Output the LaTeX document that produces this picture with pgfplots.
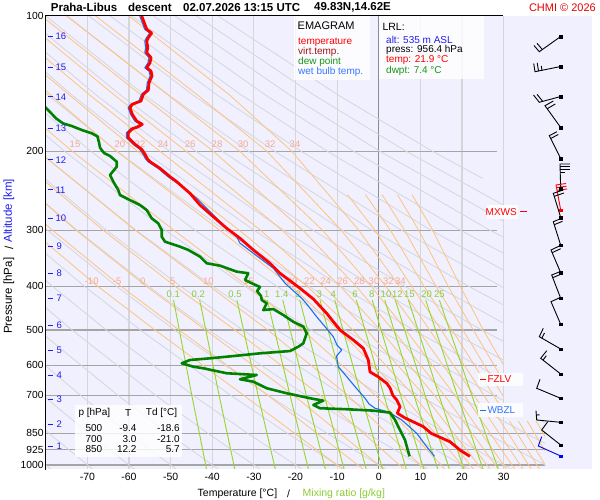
\documentclass[border=0pt]{standalone}
\usepackage{fontspec}
\setmainfont{Liberation Sans}
\usepackage{pgfplots}
\pgfplotsset{compat=1.18}
\newcommand{\fs}[1]{\fontsize{#1}{#1}\selectfont}
\definecolor{lav}{RGB}{240,240,255}
\definecolor{isoth}{RGB}{214,214,218}
\definecolor{isobarc}{RGB}{165,165,165}
\definecolor{dryc}{RGB}{214,214,220}
\definecolor{moistc}{RGB}{255,195,125}
\definecolor{mixc}{RGB}{150,215,40}
\definecolor{mixlab}{RGB}{140,205,50}
\definecolor{moistlab}{RGB}{250,168,140}
\definecolor{tred}{RGB}{255,0,0}
\definecolor{dgreen}{RGB}{0,130,0}
\definecolor{wblue}{RGB}{30,110,235}
\definecolor{altblue}{RGB}{30,30,240}
\definecolor{vred}{RGB}{160,20,20}
\definecolor{lgreen}{RGB}{20,150,20}
\definecolor{lblue}{RGB}{50,120,255}
\pgfplotsset{
 dry/.style={draw=dryc, line width=0.8pt, mark=none},
 moist/.style={draw=moistc, line width=0.8pt, mark=none},
 mix/.style={draw=mixc, line width=0.9pt, mark=none},
 barb/.style={draw=black, line width=0.9pt, mark=none},
}
\tikzset{txt/.style={inner sep=0pt, font=\fs{10}}}
\begin{document}
\begin{tikzpicture}
\useasboundingbox (0pt,0pt) rectangle (600pt,500pt);
\fill[white] (0pt,0pt) rectangle (600pt,500pt);

% ---------- frame, grid, ticks
\begin{axis}[at={(45.74pt,31pt)}, anchor=south west, scale only axis, width=546.3pt, height=453pt,
  xmin=-80, xmax=51.25, ymode=log, ymin=100, ymax=1020.7, y dir=reverse,
  axis background/.style={fill=lav},
  axis line style={draw=none}, major tick length=0pt, minor tick length=0pt,
  xtick={-70,-60,-50,-40,-30,-20,-10,0,10,20,30},
  xticklabels={-70,-60,-50,-40,-30,-20,-10,0,10,20,30},
  ytick={100,200,300,400,500,600,700,850,925,1000},
  yticklabels={100,200,300,400,500,600,700,850,925,1000},
  xticklabel style={font=\fs{10.5}, inner sep=1pt, yshift=-2.5pt},
  yticklabel style={font=\fs{10.3}, inner sep=2pt}]
\addplot[isoth, line width=1.2pt, mark=none] coordinates {(-70,100) (-70,1020.7)};
\addplot[isoth, line width=1.2pt, mark=none] coordinates {(-60,100) (-60,1020.7)};
\addplot[isoth, line width=1.2pt, mark=none] coordinates {(-50,100) (-50,1020.7)};
\addplot[isoth, line width=1.2pt, mark=none] coordinates {(-40,100) (-40,1020.7)};
\addplot[isoth, line width=1.2pt, mark=none] coordinates {(-30,100) (-30,1020.7)};
\addplot[isoth, line width=1.2pt, mark=none] coordinates {(-20,100) (-20,1020.7)};
\addplot[isoth, line width=1.2pt, mark=none] coordinates {(-10,100) (-10,1020.7)};
\addplot[isoth, line width=1.2pt, mark=none] coordinates {(10,100) (10,1020.7)};
\addplot[isoth, line width=1.2pt, mark=none] coordinates {(20,100) (20,1020.7)};
\addplot[isoth, line width=1.2pt, mark=none] coordinates {(30,100) (30,1020.7)};
\addplot[black!45, line width=1pt, mark=none] coordinates {(0,100) (0,1020.7)};
\addplot[isobarc, line width=1.3pt, mark=none] coordinates {(-80,200) (28.4,200)};
\addplot[isobarc, line width=1.3pt, mark=none] coordinates {(-80,300) (28.4,300)};
\addplot[isobarc, line width=1.3pt, mark=none] coordinates {(-80,400) (28.4,400)};
\addplot[isobarc, line width=1.3pt, mark=none] coordinates {(-80,500) (28.4,500)};
\addplot[isobarc, line width=1.3pt, mark=none] coordinates {(-80,600) (28.4,600)};
\addplot[isobarc, line width=1.3pt, mark=none] coordinates {(-80,700) (28.4,700)};
\addplot[isobarc, line width=1.3pt, mark=none] coordinates {(-80,850) (40,850)};
\addplot[isobarc, line width=1.3pt, mark=none] coordinates {(-80,925) (40,925)};
\addplot[isobarc, line width=1.3pt, mark=none] coordinates {(-80,1000) (40,1000)};
\end{axis}

% ---------- adiabats and mixing ratio lines (clipped to the diagram area)
\begin{scope}
\clip (45.74pt,31pt) -- (45.74pt,484pt) -- (503pt,484pt) -- (503pt,79pt) -- (545pt,79pt) -- (545pt,31pt) -- cycle;
\begin{axis}[at={(45.74pt,31pt)}, anchor=south west, scale only axis, width=546.3pt, height=453pt,
  xmin=-80, xmax=51.25, ymode=log, ymin=100, ymax=1020.7, y dir=reverse, hide axis]
% dry adiabats, theta = -80 ... 180 C
\addplot[dry] coordinates {(-78.74,1023) (-88.77,850)};
\addplot[dry] coordinates {(-68.67,1023) (-79.23,850) (-89.70,700)};
\addplot[dry] coordinates {(-58.61,1023) (-69.68,850) (-80.67,700) (-98.33,500)};
\addplot[dry] coordinates {(-48.54,1023) (-60.13,850) (-71.64,700) (-90.13,500)};
\addplot[dry] coordinates {(-38.48,1023) (-50.59,850) (-62.61,700) (-81.93,500)};
\addplot[dry] coordinates {(-28.41,1023) (-41.04,850) (-53.58,700) (-73.73,500) (-86.05,400)};
\addplot[dry] coordinates {(-18.35,1023) (-31.50,850) (-44.55,700) (-65.52,500) (-78.36,400) (-93.74,300)};
\addplot[dry] coordinates {(-8.28,1023) (-21.95,850) (-35.52,700) (-57.32,500) (-70.67,400) (-86.66,300)};
\addplot[dry] coordinates {(1.78,1023) (-12.41,850) (-26.49,700) (-49.12,500) (-62.97,400) (-79.57,300) (-100.75,200)};
\addplot[dry] coordinates {(11.85,1023) (-2.86,850) (-17.46,700) (-40.92,500) (-55.28,400) (-72.48,300) (-94.44,200)};
\addplot[dry] coordinates {(21.91,1023) (6.69,850) (-8.43,700) (-32.72,500) (-47.58,400) (-65.40,300) (-88.13,200)};
\addplot[dry] coordinates {(31.98,1023) (16.23,850) (0.60,700) (-24.52,500) (-39.89,400) (-58.31,300) (-81.81,200)};
\addplot[dry] coordinates {(42.04,1023) (25.78,850) (9.63,700) (-16.31,500) (-32.19,400) (-51.22,300) (-75.50,200) (-91.12,150)};
\addplot[dry] coordinates {(52.11,1023) (35.32,850) (18.66,700) (-8.11,500) (-24.50,400) (-44.14,300) (-69.19,200) (-85.31,150)};
\addplot[dry] coordinates {(62.17,1023) (44.87,850) (27.69,700) (0.09,500) (-16.80,400) (-37.05,300) (-62.88,200) (-79.49,150) (-100.70,100)};
\addplot[dry] coordinates {(72.24,1023) (54.42,850) (36.72,700) (8.29,500) (-9.11,400) (-29.96,300) (-56.57,200) (-73.68,150) (-95.52,100)};
\addplot[dry] coordinates {(82.30,1023) (63.96,850) (45.75,700) (16.49,500) (-1.41,400) (-22.87,300) (-50.26,200) (-67.87,150) (-90.35,100)};
\addplot[dry] coordinates {(92.37,1023) (73.51,850) (54.78,700) (24.69,500) (6.28,400) (-15.79,300) (-43.95,200) (-62.05,150) (-85.17,100)};
\addplot[dry] coordinates {(102.43,1023) (83.05,850) (63.81,700) (32.90,500) (13.98,400) (-8.70,300) (-37.64,200) (-56.24,150) (-79.99,100)};
\addplot[dry] coordinates {(112.50,1023) (92.60,850) (72.84,700) (41.10,500) (21.67,400) (-1.61,300) (-31.33,200) (-50.43,150) (-74.82,100)};
\addplot[dry] coordinates {(122.56,1023) (102.15,850) (81.87,700) (49.30,500) (29.36,400) (5.47,300) (-25.01,200) (-44.62,150) (-69.64,100)};
\addplot[dry] coordinates {(132.63,1023) (111.69,850) (90.90,700) (57.50,500) (37.06,400) (12.56,300) (-18.70,200) (-38.80,150) (-64.46,100)};
\addplot[dry] coordinates {(142.69,1023) (121.24,850) (99.93,700) (65.70,500) (44.75,400) (19.65,300) (-12.39,200) (-32.99,150) (-59.29,100)};
\addplot[dry] coordinates {(152.76,1023) (130.78,850) (108.96,700) (73.90,500) (52.45,400) (26.73,300) (-6.08,200) (-27.18,150) (-54.11,100)};
\addplot[dry] coordinates {(162.82,1023) (140.33,850) (117.99,700) (82.11,500) (60.14,400) (33.82,300) (0.23,200) (-21.36,150) (-48.94,100)};
\addplot[dry] coordinates {(172.89,1023) (149.87,850) (127.02,700) (90.31,500) (67.84,400) (40.91,300) (6.54,200) (-15.55,150) (-43.76,100)};
\addplot[dry] coordinates {(25.0,230) (12.85,200) (-9.74,150) (-38.59,100)};
% moist (pseudo) adiabats, theta_w = -10 ... 44 C
\addplot[moist] coordinates {(-8.6,1023) (-10,1000) (-32.4,700) (-53.8,500) (-67.5,400) (-83.5,300)};
\addplot[moist] coordinates {(-3.6,1023) (-5,1000) (-26.6,700) (-48.0,500) (-61.9,400) (-78.4,300) (-99.7,200)};
\addplot[moist] coordinates {(1.3,1023) (0,1000) (-20.4,700) (-41.7,500) (-55.8,400) (-72.7,300) (-94.6,200)};
\addplot[moist] coordinates {(6.2,1023) (5,1000) (-14.0,700) (-34.6,500) (-48.9,400) (-66.2,300) (-88.8,200)};
\addplot[moist] coordinates {(11.1,1023) (10,1000) (-7.4,700) (-26.7,500) (-40.6,400) (-58.5,300) (-81.9,200)};
\addplot[moist] coordinates {(15.9,1023) (15,1000) (-0.75,700) (-18.3,500) (-31.4,400) (-49.2,300) (-73.7,200) (-89.3,150)};
\addplot[moist] coordinates {(20.9,1023) (20,1000) (5.8,700) (-9.65,500) (-21.0,400) (-38.2,300) (-63.0,200) (-78.8,150) (-101,100)};
\addplot[moist] coordinates {(22.8,1023) (22,1000) (8.4,700) (-6.25,500) (-17.2,400) (-33.5,300) (-58.0,200) (-74.3,150) (-97,100)};
\addplot[moist] coordinates {(24.8,1023) (24,1000) (10.9,700) (-2.9,500) (-13.2,400) (-28.4,300) (-52.6,200) (-69.4,150) (-92,100)};
\addplot[moist] coordinates {(26.8,1023) (26,1000) (13.4,700) (0.3,500) (-9.2,400) (-23.2,300) (-46.3,200) (-63.5,150) (-86.5,100)};
\addplot[moist] coordinates {(28.8,1023) (28,1000) (15.8,700) (3.4,500) (-5.4,400) (-18.2,300) (-39.8,200) (-57.1,150) (-81,100)};
\addplot[moist] coordinates {(30.7,1023) (30,1000) (18.3,700) (6.5,500) (-1.8,400) (-13.5,300) (-33.4,200) (-50.6,150) (-75,100)};
\addplot[moist] coordinates {(32.7,1023) (32,1000) (20.6,700) (9.4,500) (1.7,400) (-9.0,300) (-26.9,200) (-43.5,150) (-68,100)};
\addplot[moist] coordinates {(34.7,1023) (34,1000) (22.9,700) (12.2,500) (5.0,400) (-4.8,300) (-20.9,200) (-35.8,150) (-60,100)};
\addplot[moist] coordinates {(36.7,1023) (36,1000) (25.3,700) (15.0,500) (7.9,400) (-0.9,300) (-7.5,250)};
\addplot[moist] coordinates {(38.7,1023) (38,1000) (27.6,700) (17.6,500) (10.9,400) (2.8,300) (-3.2,250)};
\addplot[moist] coordinates {(40.7,1023) (40,1000) (29.8,700) (20.2,500) (13.75,400) (6.2,300) (0.8,250)};
\addplot[moist] coordinates {(42.7,1023) (42,1000) (32.0,700) (22.7,500) (16.7,400) (9.6,300) (4.5,250)};
\addplot[moist] coordinates {(44.7,1023) (44,1000) (34.2,700) (25.1,500) (19.6,400) (13.0,300) (8.0,250)};
% saturation mixing ratio lines (g/kg)
\addplot[mix] coordinates {(-41.36,1023) (-44.90,700) (-49.29,429)};
\addplot[mix] coordinates {(-34.56,1023) (-38.34,700) (-43.02,429)};
\addplot[mix] coordinates {(-24.83,1023) (-28.97,700) (-34.08,429)};
\addplot[mix] coordinates {(-16.86,1023) (-21.30,700) (-26.78,429)};
\addplot[mix] coordinates {(-12.78,1023) (-17.38,700) (-23.05,429)};
\addplot[mix] coordinates {(-8.29,1023) (-13.07,700) (-18.96,429)};
\addplot[mix] coordinates {(-2.98,1023) (-7.97,700) (-14.12,429)};
\addplot[mix] coordinates {(0.93,1023) (-4.23,700) (-10.57,429)};
\addplot[mix] coordinates {(6.65,1023) (1.25,700) (-5.38,429)};
\addplot[mix] coordinates {(10.85,1023) (5.27,700) (-1.58,429)};
\addplot[mix] coordinates {(14.20,1023) (8.48,700) (1.45,429)};
\addplot[mix] coordinates {(17.00,1023) (11.15,700) (3.98,429)};
\addplot[mix] coordinates {(20.49,1023) (14.48,700) (7.13,429)};
\addplot[mix] coordinates {(25.10,1023) (18.89,700) (11.28,429)};
\addplot[mix] coordinates {(28.76,1023) (22.38,700) (14.57,429)};
\end{axis}
\end{scope}

% ---------- labels of the reference lines and the sounding
\begin{axis}[at={(45.74pt,31pt)}, anchor=south west, scale only axis, width=546.3pt, height=453pt,
  xmin=-80, xmax=51.25, ymode=log, ymin=100, ymax=1020.7, y dir=reverse, hide axis, clip mode=individual]
\begin{scope}[every node/.style={inner sep=0pt, font=\fs{9.5}, text=moistlab}]
\node at (axis cs:-72.97,193.1) {15};
\node at (axis cs:-62.16,193.1) {20};
\node at (axis cs:-57.35,193.1) {22};
\node at (axis cs:-51.82,193.1) {24};
\node at (axis cs:-45.33,193.1) {26};
\node at (axis cs:-38.85,193.1) {28};
\node at (axis cs:-32.60,193.1) {30};
\node at (axis cs:-26.11,193.1) {32};
\node at (axis cs:-20.11,193.1) {34};
\node at (axis cs:-68.96,389.4) {-10};
\node at (axis cs:-62.81,389.4) {-5};
\node at (axis cs:-56.70,389.4) {0};
\node at (axis cs:-49.49,389.4) {5};
\node at (axis cs:-40.93,389.4) {10};
\node at (axis cs:-31.33,389.4) {15};
\node at (axis cs:-20.83,389.4) {20};
\node at (axis cs:-16.67,389.4) {22};
\node at (axis cs:-12.73,389.4) {24};
\node at (axis cs:-8.65,389.4) {26};
\node at (axis cs:-4.66,389.4) {28};
\node at (axis cs:-1.13,389.4) {30};
\node at (axis cs:2.31,389.4) {32};
\node at (axis cs:5.20,389.4) {34};
\end{scope}
\begin{scope}[every node/.style={inner sep=0pt, font=\fs{9.5}, text=mixlab}]
\node at (axis cs:-49.35,416) {0.1};
\node at (axis cs:-43.34,416) {0.2};
\node at (axis cs:-34.53,416) {0.5};
\node at (axis cs:-26.91,416) {1};
\node at (axis cs:-23.31,416) {1.4};
\node at (axis cs:-19.32,416) {2};
\node at (axis cs:-14.27,416) {3};
\node at (axis cs:-10.91,416) {4};
\node at (axis cs:-5.69,416) {6};
\node at (axis cs:-1.68,416) {8};
\node at (axis cs:1.75,416) {10};
\node at (axis cs:4.47,416) {12};
\node at (axis cs:7.35,416) {15};
\node at (axis cs:11.53,416) {20};
\node at (axis cs:14.56,416) {25};
\end{scope}
% wet bulb temperature
\addplot[wblue, line width=1.1pt, mark=none, line join=round] coordinates {
(-57.4,100) (-56.2,107.1) (-55.0,109.1) (-55.8,111.8) (-56.2,113.7) (-56.0,117.7) (-56.2,120.7)
(-55.2,123.8) (-55.4,127.1) (-56.2,130.4) (-55.2,132.6) (-54.9,136.0) (-55.6,140.8) (-55.8,146.2)
(-57.0,149.4) (-57.6,154.6) (-59.6,157.3) (-60.2,160.1) (-59.6,165.6) (-58.6,171.4) (-57.3,174.3)
(-58.4,176.7) (-59.6,178.3) (-60.6,182.0) (-60.6,186.7) (-59.0,193.1) (-57.4,198.1) (-56.6,203.3)
(-56.0,208.2) (-55.4,211.1) (-53.0,218.4) (-50.6,228.0) (-47.74,237.9) (-43.73,254.8) (-40.53,272.8)
(-37.34,292.1) (-34.12,310.1) (-33.33,320.7) (-30.13,337.6) (-25.32,364.6) (-22.5,393.8) (-18.50,425.3)
(-17.30,437.9) (-14.90,467.6) (-12.90,492.0) (-10.91,517.9) (-10.02,540.5) (-8.89,554.5) (-10.14,571.9)
(-9.71,604.0) (-7.69,635.7) (-5.29,676.0) (-3.29,710.1) (-2.33,731.2) (-0.89,747.5) (2.23,761.8)
(5.53,793.7) (9.13,850.1) (11.53,910.5) (13.4,956.4)};
% dew point
\addplot[dgreen, line width=2.6pt, mark=none, line join=round] coordinates {
(-80.66,157.9) (-78.98,163.6) (-77.54,169.0) (-75.86,173.4) (-73.76,175.8) (-71.36,179.4) (-68.96,182.5)
(-67.56,185.5) (-67.20,191.5) (-66.96,196.5) (-66.00,201.9) (-64.56,205.0) (-62.95,211.1) (-62.95,216.6)
(-64.56,226.0) (-63.77,233.9) (-62.57,244.2) (-62.16,250.5) (-59.76,257.0) (-57.35,263.7) (-55.74,270.5)
(-54.54,282.2) (-52.96,289.6) (-52.14,299.7) (-52.14,310.1) (-51.35,318.1) (-47.74,326.4) (-45.75,331.9)
(-42.94,343.5) (-41.33,355.4) (-38.13,359.8) (-34.12,371.0) (-31.33,374.1) (-32.12,387.2) (-30.51,393.8)
(-28.52,401.3) (-29.24,409.7) (-28.28,420.3) (-28.11,429.0) (-26.91,436.4) (-27.73,451.8) (-25.32,449.5)
(-22.92,463.5) (-20.52,479.7) (-18.12,492.0) (-17.30,509.0) (-18.12,535.8) (-19.32,545.2) (-21.31,557.4)
(-28.52,564.0) (-34.94,571.9) (-40.53,578.6) (-45.34,583.6) (-47.33,593.6) (-44.55,604.0) (-42.14,609.0)
(-36.52,624.7) (-29.31,630.2) (-33.33,644.2) (-30.13,652.2) (-26.91,674.6) (-22.10,692.2) (-16.51,710.1)
(-13.31,718.9) (-15.71,735.0) (-14.10,747.5) (-7.69,751.3) (-1.30,756.7) (2.72,764.5) (3.92,793.7)
(5.12,835.9) (6.32,879.9) (7.4,956.4)};
% temperature
\addplot[tred, line width=2.8pt, mark=none, line join=round] coordinates {
(-56.94,100) (-55.74,107.1) (-54.54,109.1) (-55.36,111.8) (-55.74,113.7) (-55.50,117.7) (-55.74,120.7)
(-54.71,123.8) (-54.95,127.1) (-55.74,130.4) (-54.71,132.6) (-54.47,136.0) (-55.19,140.8) (-55.36,146.2)
(-56.56,149.4) (-57.11,154.6) (-59.20,157.3) (-59.76,160.1) (-59.20,165.6) (-58.15,171.4) (-56.80,174.3)
(-57.91,176.7) (-59.20,178.3) (-60.16,182.0) (-60.16,186.7) (-58.55,193.1) (-56.94,198.1) (-56.15,203.3)
(-55.55,208.2) (-54.95,211.1) (-52.55,218.4) (-50.14,228.0) (-48.53,233.9) (-45.34,248.3) (-42.93,263.7)
(-39.74,279.9) (-36.52,297.1) (-33.33,312.6) (-30.13,331.9) (-26.12,355.4) (-23.71,374.1) (-20.52,393.8)
(-18.91,404.0) (-15.71,426.8) (-12.49,459.5) (-9.30,500.4) (-6.10,526.8) (-3.70,549.7) (-2.50,583.6)
(-2.09,620.5) (-0.17,635.7) (1.92,657.6) (2.72,673.6) (3.4,700) (4.32,716.3) (5.12,741.4) (4.47,766.9)
(6.32,785.6) (10.72,821.4) (12.6,850.1) (17.13,887.6) (19.53,926.1) (21.9,956.4)};
\end{axis}

% ---------- texts, boxes, altitude scale, wind barbs (picture pixel grid)
\begin{axis}[at={(0pt,0pt)}, anchor=south west, scale only axis, width=600pt, height=500pt,
   xmin=0, xmax=600, ymin=0, ymax=500, y dir=reverse, hide axis, clip=false]
\addplot[black, line width=1.3pt, mark=none] coordinates {(45.7,469.5) (45.7,15.8) (503,15.8)};
% title
\node[txt, anchor=west, font=\fs{11.5}\bfseries] at (axis cs:50.7,7.5) {Praha-Libus};
\node[txt, anchor=west, font=\fs{11.5}\bfseries] at (axis cs:128,7.5) {descent};
\node[txt, anchor=west, font=\fs{11.5}\bfseries] at (axis cs:183,7.5) {02.07.2026 13:15 UTC};
\node[txt, anchor=west, font=\fs{11.5}\bfseries] at (axis cs:314,7.5) {49.83N,14.62E};
\node[txt, anchor=east, font=\fs{11}, text=red!90!black] at (axis cs:596,7.5) {CHMI © 2026};
% axis titles
\node[txt, anchor=west, font=\fs{10.5}] at (axis cs:197.5,493.3) {Temperature [°C]};
\node[txt, font=\fs{10.5}] at (axis cs:288.5,493.3) {/};
\node[txt, anchor=west, font=\fs{10.5}, text=mixlab] at (axis cs:302.5,493.3) {Mixing ratio [g/kg]};
\node[txt, anchor=west, rotate=90, font=\fs{11.5}] at (axis cs:9,334) {Pressure [hPa]};
\node[txt, rotate=90, font=\fs{11.5}] at (axis cs:9,248) {/};
\node[txt, anchor=west, rotate=90, font=\fs{11.5}, text=altblue] at (axis cs:9,242.5) {Altitude [km]};
% legend box
\fill[white, opacity=0.8] (axis cs:293.5,16.5) rectangle (axis cs:370,80.5);
\node[txt, anchor=west, font=\fs{11}] at (axis cs:297.5,26) {EMAGRAM};
\node[txt, anchor=west, text=red] at (axis cs:298,42.3) {temperature};
\node[txt, anchor=west, text=vred] at (axis cs:298,52.3) {virt.temp.};
\node[txt, anchor=west, text=lgreen] at (axis cs:298,62) {dew point};
\node[txt, anchor=west, text=lblue] at (axis cs:298,72) {wet bulb temp.};
% LRL box
\fill[white, opacity=0.8] (axis cs:379,16.5) rectangle (axis cs:483.5,79.5);
\node[txt, anchor=west, font=\fs{10.5}] at (axis cs:382.3,27) {LRL:};
\node[txt, anchor=west, text=altblue] at (axis cs:386,39.7) {alt: 535 m ASL};
\node[txt, anchor=west] at (axis cs:386,50) {press: 956.4 hPa};
\node[txt, anchor=west, text=red] at (axis cs:386,60.3) {temp: 21.9 °C};
\node[txt, anchor=west, text=lgreen] at (axis cs:386,70.7) {dwpt: 7.4 °C};
% standard level table
\fill[white, opacity=0.8] (axis cs:75,405) rectangle (axis cs:182,457);
\node[txt, anchor=west] at (axis cs:78.3,413.3) {p [hPa]};
\node[txt] at (axis cs:128.3,413.3) {T};
\node[txt, anchor=west] at (axis cs:145.7,413.3) {Td [°C]};
\node[txt, anchor=east] at (axis cs:102.5,428.3) {500};
\node[txt, anchor=east] at (axis cs:136.7,428.3) {-9.4};
\node[txt, anchor=east] at (axis cs:180,428.3) {-18.6};
\node[txt, anchor=east] at (axis cs:102.5,438.7) {700};
\node[txt, anchor=east] at (axis cs:136.7,438.7) {3.0};
\node[txt, anchor=east] at (axis cs:180,438.7) {-21.0};
\node[txt, anchor=east] at (axis cs:102.5,448.7) {850};
\node[txt, anchor=east] at (axis cs:136.7,448.7) {12.2};
\node[txt, anchor=east] at (axis cs:180,448.7) {5.7};
% FZLV, WBZL, MXWS
\fill[white, opacity=0.85] (axis cs:478,372.5) rectangle (axis cs:522.7,386);
\fill[white, opacity=0.85] (axis cs:478,403) rectangle (axis cs:522.7,417);
\fill[white, opacity=0.85] (axis cs:486.5,205) rectangle (axis cs:518,218.5);
\addplot[red, line width=1pt, mark=none] coordinates {(480,379.3) (485.5,379.3)};
\node[txt, anchor=west, text=red] at (axis cs:487.3,379.3) {FZLV};
\addplot[wblue, line width=1pt, mark=none] coordinates {(480,410) (485.5,410)};
\node[txt, anchor=west, text=lblue] at (axis cs:487.3,410) {WBZL};
\node[txt, anchor=east, text=red] at (axis cs:517,211.7) {MXWS};
\addplot[red, line width=1pt, mark=none] coordinates {(520,211.7) (527.3,211.7)};
% altitude scale
\begin{scope}[every node/.style={inner sep=0pt, font=\fs{9.5}, text=altblue, anchor=west}]
\node at (axis cs:55.3,36.5) {16};
\node at (axis cs:55.3,67.5) {15};
\node at (axis cs:55.3,97) {14};
\node at (axis cs:55.3,128.5) {13};
\node at (axis cs:55.3,160) {12};
\node at (axis cs:55.3,190) {11};
\node at (axis cs:55.3,218.3) {10};
\node at (axis cs:56.5,246.7) {9};
\node at (axis cs:56.5,273) {8};
\node at (axis cs:56.5,298.5) {7};
\node at (axis cs:56.5,325.5) {6};
\node at (axis cs:56.5,350) {5};
\node at (axis cs:56.5,375.3) {4};
\node at (axis cs:56.5,399.5) {3};
\node at (axis cs:56.5,424) {2};
\node at (axis cs:56.5,446.7) {1};
\end{scope}
\addplot[altblue, line width=1pt, mark=none] coordinates {(47.5,36.5) (52.5,36.5)};
\addplot[altblue, line width=1pt, mark=none] coordinates {(47.5,67.5) (52.5,67.5)};
\addplot[altblue, line width=1pt, mark=none] coordinates {(47.5,97) (52.5,97)};
\addplot[altblue, line width=1pt, mark=none] coordinates {(47.5,128.5) (52.5,128.5)};
\addplot[altblue, line width=1pt, mark=none] coordinates {(47.5,160) (52.5,160)};
\addplot[altblue, line width=1pt, mark=none] coordinates {(47.5,190) (52.5,190)};
\addplot[altblue, line width=1pt, mark=none] coordinates {(47.5,218.3) (52.5,218.3)};
\addplot[altblue, line width=1pt, mark=none] coordinates {(47.5,246.7) (52.5,246.7)};
\addplot[altblue, line width=1pt, mark=none] coordinates {(47.5,273) (52.5,273)};
\addplot[altblue, line width=1pt, mark=none] coordinates {(47.5,298.5) (52.5,298.5)};
\addplot[altblue, line width=1pt, mark=none] coordinates {(47.5,325.5) (52.5,325.5)};
\addplot[altblue, line width=1pt, mark=none] coordinates {(47.5,350) (52.5,350)};
\addplot[altblue, line width=1pt, mark=none] coordinates {(47.5,375.3) (52.5,375.3)};
\addplot[altblue, line width=1pt, mark=none] coordinates {(47.5,399.5) (52.5,399.5)};
\addplot[altblue, line width=1pt, mark=none] coordinates {(47.5,424) (52.5,424)};
\addplot[altblue, line width=1pt, mark=none] coordinates {(47.5,446.7) (52.5,446.7)};
% wind barbs
\addplot[barb] coordinates {(560.7,36.5) (539.3,51.7) (534,45.5)};
\addplot[barb] coordinates {(542.3,49.5) (537,43.3)};
\addplot[barb] coordinates {(560.7,66.5) (535,71.7) (533.7,63.5)};
\addplot[barb] coordinates {(538.5,71) (537.2,62.8)};
\addplot[barb] coordinates {(542,70.3) (541.3,66)};
\addplot[barb] coordinates {(560.7,96.5) (539.3,102.3) (533.5,95)};
\addplot[barb] coordinates {(542.7,101.3) (537,94.3)};
\addplot[barb] coordinates {(560.7,127.5) (545,105.7) (553.3,101)};
\addplot[barb] coordinates {(547.3,108.7) (555.3,104)};
\addplot[barb] coordinates {(560.7,158.5) (549.3,135.7) (557,131.7)};
\addplot[barb] coordinates {(550.7,138.5) (558.3,134.5)};
\addplot[barb] coordinates {(560.7,189) (560,164) (570,164)};
\addplot[barb] coordinates {(560,166.7) (569.7,166.7)};
\addplot[barb] coordinates {(560,169.3) (569.5,169.3)};
\addplot[barb] coordinates {(560.1,172) (565,172)};
\addplot[barb, draw=red] coordinates {(560.7,210) (556,185) (566,183.5)};
\addplot[barb, draw=red] coordinates {(556.6,187.7) (566.6,186.2)};
\addplot[barb, draw=red] coordinates {(557.2,190.4) (567.2,188.9)};
\addplot[barb] coordinates {(560.7,217.5) (553.3,193.3) (563.3,190)};
\addplot[barb] coordinates {(554.3,196.3) (564,193)};
\addplot[barb] coordinates {(560.7,245.3) (553.3,221.7) (561.7,218.3)};
\addplot[barb] coordinates {(554.2,224.7) (562.5,221.3)};
\addplot[barb] coordinates {(560.7,272.7) (551,250) (560,245.7)};
\addplot[barb] coordinates {(552,252.7) (560.7,248.7)};
\addplot[barb] coordinates {(560.7,298.3) (551.7,275) (560,271.7)};
\addplot[barb] coordinates {(552.7,277.7) (560.7,274.3)};
\addplot[barb] coordinates {(560.7,324.3) (551,301.7) (559.7,297.7)};
\addplot[barb] coordinates {(560.7,349) (539.3,336.7) (543.3,328.3)};
\addplot[barb] coordinates {(541.8,338.1) (544.5,333)};
\addplot[barb] coordinates {(560.7,374) (540.7,358.3) (546.7,350.7)};
\addplot[barb] coordinates {(543,360.1) (546.3,355.7)};
\addplot[barb] coordinates {(560.7,398.3) (536.7,388.3) (540,379.3)};
\addplot[barb] coordinates {(560.7,422.3) (536.7,420) (536,410.7)};
\addplot[barb] coordinates {(536.5,415) (539.5,414.8)};
\addplot[barb] coordinates {(560.7,445) (541.7,430) (547.7,421.7)};
\addplot[barb, draw=blue!85!black] coordinates {(560.7,456) (538.3,446) (541.7,436.7)};
\addplot[only marks, mark=square*, mark size=1.3pt, black] coordinates {
(560.7,36.5) (560.7,66.5) (560.7,96.5) (560.7,127.5) (560.7,158.5) (560.7,189) (560.7,217.5)
(560.7,245.3) (560.7,272.7) (560.7,298.3) (560.7,324.3) (560.7,349) (560.7,374) (560.7,398.3)
(560.7,422.3) (560.7,445)};
\addplot[only marks, mark=square*, mark size=1.3pt, red] coordinates {(560.7,210)};
\addplot[only marks, mark=square*, mark size=1.3pt, blue] coordinates {(560.7,456)};
\end{axis}
\end{tikzpicture}
\end{document}
